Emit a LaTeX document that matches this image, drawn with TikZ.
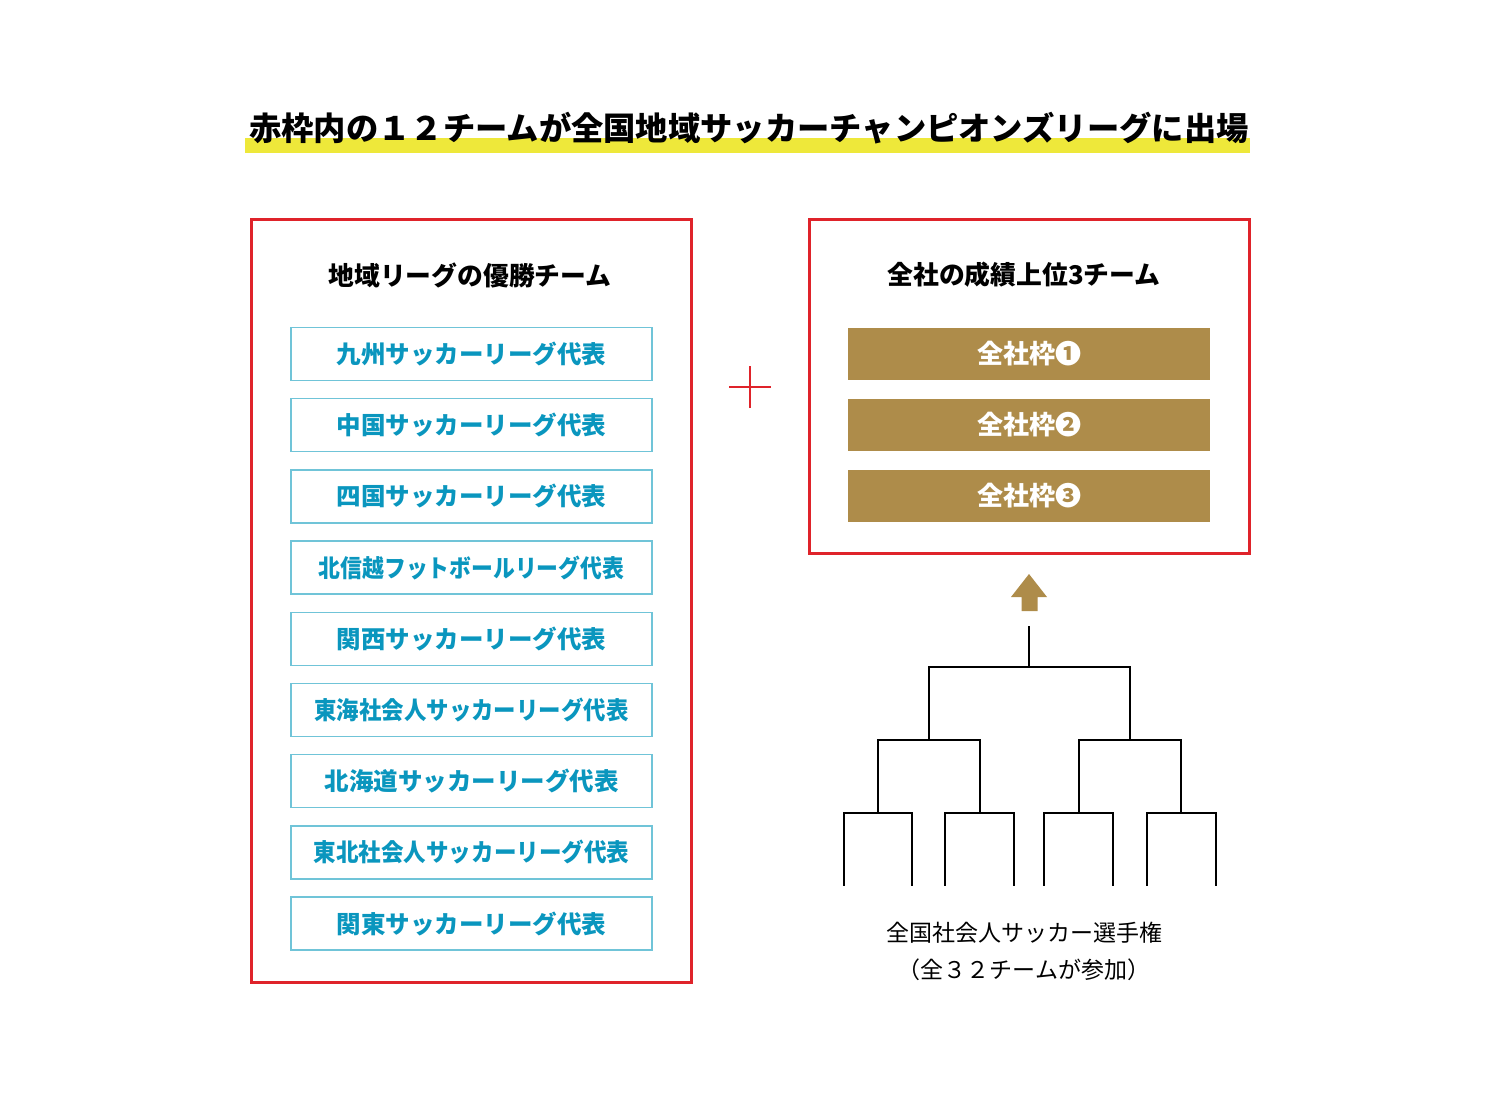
\documentclass[tikz,border=0pt]{standalone}
\usepackage{fontspec}
\setmainfont{Noto Sans CJK JP}
\usetikzlibrary{positioning}
\definecolor{wakuRed}{RGB}{223,35,42}
\definecolor{lineBlue}{RGB}{112,196,216}
\definecolor{textBlue}{RGB}{10,150,190}
\definecolor{zenshaGold}{RGB}{174,140,74}
\definecolor{bandYellow}{RGB}{238,232,58}
\tikzset{
  redFrame/.style={draw=wakuRed, line width=3pt, minimum width=440pt, inner sep=0pt},
  teamBox/.style={draw=lineBlue, line width=1.3pt, minimum width=361pt, minimum height=53pt,
    text=textBlue, font=\fontsize{24.5}{26}\selectfont\bfseries},
  zenshaBox/.style={fill=zenshaGold, minimum width=362pt, minimum height=52pt,
    text=white, font=\fontsize{26}{28}\selectfont\bfseries},
  heading/.style={font=\fontsize{25.8}{28}\selectfont\bfseries},
  bracket/.style={line width=2pt, line cap=rect}
}
\begin{document}
\begin{tikzpicture}[x=1pt,y=-1pt]
  \useasboundingbox (0,0) rectangle (1500,1098);
  % title with yellow marker
  \fill[bandYellow] (245,138) rectangle (1250,153);
  \node[font=\fontsize{32.3}{34}\selectfont\bfseries] (title) at (749,128)
    {赤枠内の１２チームが全国地域サッカーチャンピオンズリーグに出場};
  % left frame
  \node[redFrame, minimum height=763pt] (leftFrame) at (471,600.5) {};
  \node[heading] (leftHead) at (470,275) {地域リーグの優勝チーム};
  \foreach \name/\sx [count=\i from 0] in {九州サッカーリーグ代表/1,中国サッカーリーグ代表/1,
      四国サッカーリーグ代表/1,北信越フットボールリーグ代表/0.89,関西サッカーリーグ代表/1,
      東海社会人サッカーリーグ代表/0.915,北海道サッカーリーグ代表/1,東北社会人サッカーリーグ代表/0.92,
      関東サッカーリーグ代表/1}
    \node[teamBox] (team\i) at (471.5,354+71.2*\i) {\scalebox{\sx}[1]{\name}};
  % plus
  \coordinate (plus) at (750,387);
  \draw[wakuRed, line width=2.6pt] ([xshift=-21pt]plus) -- ([xshift=21pt]plus)
    ([yshift=-21pt]plus) -- ([yshift=21pt]plus);
  % right frame
  \node[redFrame, minimum height=334pt] (rightFrame) at (1029,386) {};
  \node[heading] (rightHead) at (1024,275) {全社の成績上位3チーム};
  \node[zenshaBox] (zensha1) at (1029,354) {全社枠❶};
  \node[zenshaBox] (zensha2) at (1029,425) {全社枠❷};
  \node[zenshaBox] (zensha3) at (1029,496) {全社枠❸};
  % arrow up
  \fill[zenshaGold] (1029,574) -- (1047,597) -- (1037.5,597) -- (1037.5,611)
    -- (1021.5,611) -- (1021.5,597) -- (1011,597) -- cycle;
  % tournament bracket
  \coordinate (top) at (1029,627);
  \coordinate (final) at (1029,667);
  \draw[bracket] (top) -- (final);
  \draw[bracket] (929,740) -- (929,667) -- (1130,667) -- (1130,740);
  \draw[bracket] (878,813) -- (878,740) -- (980,740) -- (980,813);
  \draw[bracket] (1079,813) -- (1079,740) -- (1181,740) -- (1181,813);
  \foreach \l/\r in {844/912,945/1014,1044/1113,1147/1216}
    \draw[bracket] (\l,885) -- (\l,813) -- (\r,813) -- (\r,885);
  % caption
  \node[font=\fontsize{23}{25}\selectfont] (zenshaName) at (1024,933) {全国社会人サッカー選手権};
  \node[font=\fontsize{23}{25}\selectfont] (zenshaNote) at (1024,970) {（全３２チームが参加）};
\end{tikzpicture}
\end{document}
